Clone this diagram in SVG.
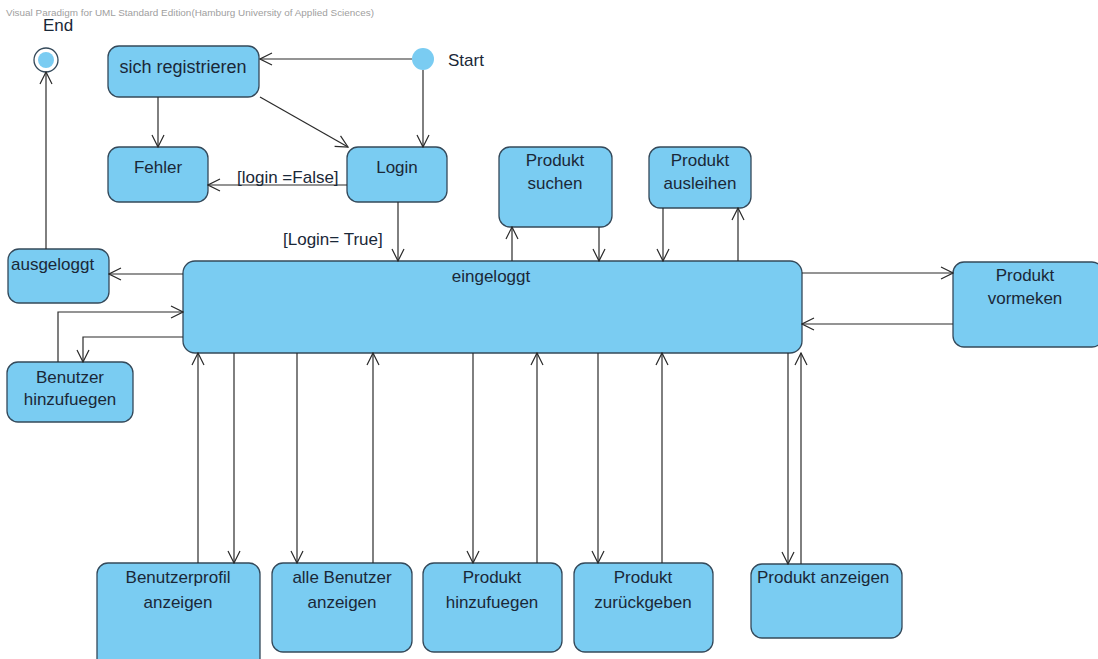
<svg xmlns="http://www.w3.org/2000/svg" width="1098" height="659" viewBox="0 0 1098 659">
  <style>
    .state { fill: #7accf2; stroke: #34495a; stroke-width: 1.3; }
    .lbl { font-family: "Liberation Sans", Arial, sans-serif; font-size: 17px; fill: #1a2838; }
    .big { font-size: 18px; }
    .c { text-anchor: middle; }
    .edge { fill: none; stroke: #2a2a2a; stroke-width: 1.2; marker-end: url(#open); }
    .wm { font-family: "Liberation Sans", Arial, sans-serif; font-size: 9px; fill: #a0a0a0; }
  </style>
  <defs>
    <marker id="open" viewBox="0 0 14 14" refX="13" refY="7" markerWidth="14" markerHeight="14" markerUnits="userSpaceOnUse" orient="auto">
      <path d="M1,1 L13,7 L1,13" fill="none" stroke="#2a2a2a" stroke-width="1.2"/>
    </marker>
  </defs>
  <rect width="1098" height="659" fill="#ffffff"/>

  <text class="wm" x="6" y="16" textLength="368" lengthAdjust="spacingAndGlyphs">Visual Paradigm for UML Standard Edition(Hamburg University of Applied Sciences)</text>

  <!-- final state -->
  <g id="end">
    <text class="lbl" x="43" y="31">End</text>
    <circle cx="46" cy="60" r="12" fill="#ffffff" stroke="#34495a" stroke-width="1.3"/>
    <circle cx="46" cy="60" r="8" fill="#7accf2"/>
  </g>

  <!-- initial state -->
  <g id="start">
    <circle cx="423" cy="59" r="11" fill="#7accf2"/>
    <text class="lbl" x="448" y="66">Start</text>
  </g>

  <g id="sich-registrieren">
    <rect class="state" x="108" y="46" width="151" height="51" rx="11"/>
    <text class="lbl big c" x="183" y="73">sich registrieren</text>
  </g>

  <g id="fehler">
    <rect class="state" x="108" y="147" width="100" height="55" rx="11"/>
    <text class="lbl c" x="158" y="173">Fehler</text>
  </g>

  <g id="login">
    <rect class="state" x="347" y="147" width="100" height="55" rx="11"/>
    <text class="lbl c" x="397" y="173">Login</text>
  </g>

  <g id="produkt-suchen">
    <rect class="state" x="499" y="147" width="113" height="80" rx="11"/>
    <text class="lbl c" x="555" y="166">Produkt</text>
    <text class="lbl c" x="555" y="189">suchen</text>
  </g>

  <g id="produkt-ausleihen">
    <rect class="state" x="649" y="147" width="102" height="61" rx="11"/>
    <text class="lbl c" x="700" y="166">Produkt</text>
    <text class="lbl c" x="700" y="189">ausleihen</text>
  </g>

  <g id="eingeloggt">
    <rect class="state" x="183" y="261" width="619" height="92" rx="12"/>
    <text class="lbl c" x="491" y="282">eingeloggt</text>
  </g>

  <g id="ausgeloggt">
    <rect class="state" x="8" y="249" width="101" height="54" rx="11"/>
    <text class="lbl" x="11" y="270">ausgeloggt</text>
  </g>

  <g id="benutzer-hinzufuegen">
    <rect class="state" x="7" y="362" width="126" height="60" rx="11"/>
    <text class="lbl c" x="70" y="383">Benutzer</text>
    <text class="lbl c" x="70" y="405">hinzufuegen</text>
  </g>

  <g id="produkt-vormeken">
    <rect class="state" x="953" y="262" width="150" height="85" rx="11"/>
    <text class="lbl c" x="1025" y="281">Produkt</text>
    <text class="lbl c" x="1025" y="304">vormeken</text>
  </g>

  <g id="benutzerprofil-anzeigen">
    <rect class="state" x="97" y="563" width="163" height="110" rx="11"/>
    <text class="lbl c" x="178" y="583">Benutzerprofil</text>
    <text class="lbl c" x="178" y="608">anzeigen</text>
  </g>

  <g id="alle-benutzer-anzeigen">
    <rect class="state" x="272" y="563" width="140" height="89" rx="11"/>
    <text class="lbl c" x="342" y="583">alle Benutzer</text>
    <text class="lbl c" x="342" y="608">anzeigen</text>
  </g>

  <g id="produkt-hinzufuegen">
    <rect class="state" x="423" y="563" width="139" height="89" rx="11"/>
    <text class="lbl c" x="492" y="583">Produkt</text>
    <text class="lbl c" x="492" y="608">hinzufuegen</text>
  </g>

  <g id="produkt-zurueckgeben">
    <rect class="state" x="574" y="563" width="139" height="89" rx="11"/>
    <text class="lbl c" x="643" y="583">Produkt</text>
    <text class="lbl c" x="643" y="608">zurückgeben</text>
  </g>

  <g id="produkt-anzeigen">
    <rect class="state" x="751" y="564" width="151" height="74" rx="11"/>
    <text class="lbl" x="757" y="583">Produkt anzeigen</text>
  </g>

  <g id="connectors">
    <line class="edge" x1="412" y1="59" x2="260" y2="59"/>
    <line class="edge" x1="423" y1="70" x2="423" y2="147"/>
    <line class="edge" x1="158" y1="97" x2="158" y2="147"/>
    <line class="edge" x1="260" y1="97" x2="348" y2="147"/>
    <line class="edge" x1="347" y1="185" x2="208" y2="185"/>
    <text class="lbl" x="237" y="183">[login =False]</text>
    <line class="edge" x1="398" y1="202" x2="398" y2="261"/>
    <text class="lbl" x="283" y="245">[Login= True]</text>

    <line class="edge" x1="512" y1="261" x2="512" y2="227"/>
    <line class="edge" x1="599" y1="227" x2="599" y2="261"/>
    <line class="edge" x1="663" y1="208" x2="663" y2="261"/>
    <line class="edge" x1="738" y1="261" x2="738" y2="208"/>

    <line class="edge" x1="183" y1="274" x2="109" y2="274"/>
    <line class="edge" x1="46" y1="249" x2="46" y2="72"/>
    <polyline class="edge" points="58,362 58,312 183,312"/>
    <polyline class="edge" points="183,337 83,337 83,362"/>

    <line class="edge" x1="802" y1="273" x2="953" y2="273"/>
    <line class="edge" x1="953" y1="324" x2="802" y2="324"/>

    <line class="edge" x1="198" y1="563" x2="198" y2="353"/>
    <line class="edge" x1="234" y1="353" x2="234" y2="563"/>
    <line class="edge" x1="297" y1="353" x2="297" y2="563"/>
    <line class="edge" x1="373" y1="563" x2="373" y2="353"/>
    <line class="edge" x1="473" y1="353" x2="473" y2="563"/>
    <line class="edge" x1="537" y1="563" x2="537" y2="353"/>
    <line class="edge" x1="598" y1="353" x2="598" y2="563"/>
    <line class="edge" x1="662" y1="563" x2="662" y2="353"/>
    <line class="edge" x1="788" y1="353" x2="788" y2="564"/>
    <line class="edge" x1="801" y1="564" x2="801" y2="353"/>
  </g>
</svg>
